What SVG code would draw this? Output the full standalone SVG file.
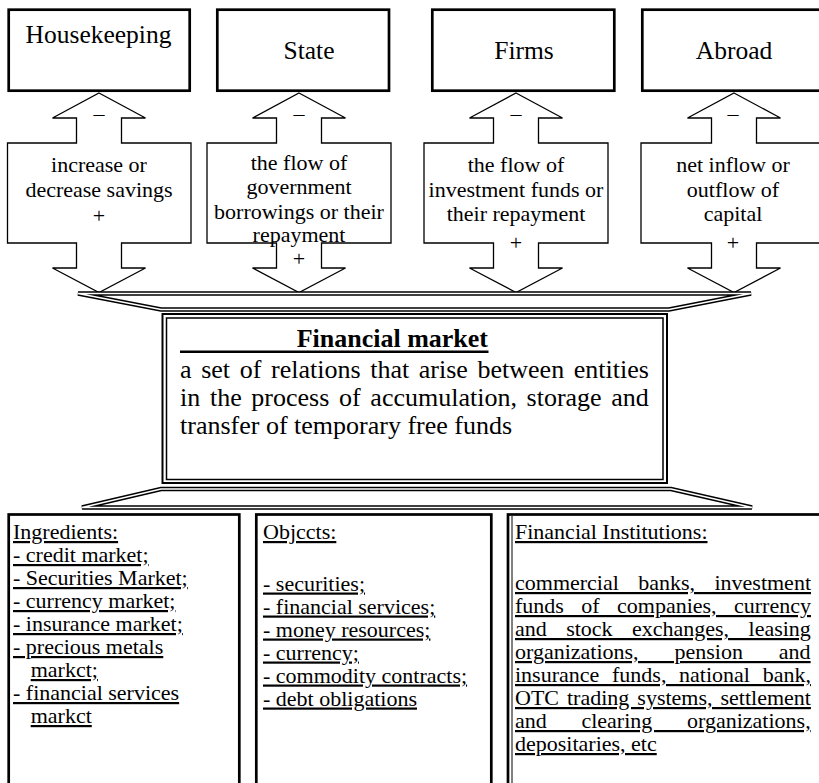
<svg xmlns="http://www.w3.org/2000/svg" width="819" height="783" viewBox="0 0 819 783">
<style>
.box{fill:#fff;stroke:#000;stroke-width:2.7}
.arr{fill:#fff;stroke:#000;stroke-width:1.3;stroke-linejoin:miter}
.dblk{fill:none;stroke:#000;stroke-width:4.5}
.dwht{fill:none;stroke:#fff;stroke-width:1.5}
text{font-family:"Liberation Serif","Times New Roman",serif;fill:#000}
.h{font-size:25.5px;text-anchor:middle}
.f{font-size:22px;text-anchor:middle}
.c{font-size:26px}
.l{font-size:22px;text-decoration:underline}
.u2{text-decoration-thickness:1.8px}
</style>
<rect width="819" height="783" fill="#fff"/>

<g id="housekeeping">
<rect class="box" x="8.7" y="9.7" width="181" height="81"/>
<text class="h" x="98.5" y="43">Housekeeping</text>
</g>
<g id="state">
<rect class="box" x="217.3" y="9.7" width="171.7" height="81"/>
<text class="h" x="309" y="59">State</text>
</g>
<g id="firms">
<rect class="box" x="432.3" y="9.7" width="182" height="81"/>
<text class="h" x="524" y="59">Firms</text>
</g>
<g id="abroad">
<rect class="box" x="642.3" y="9.7" width="200" height="81"/>
<text class="h" x="734" y="59">Abroad</text>
</g>

<g id="flow-housekeeping">
<path class="arr" d="M99,93 L145.5,118 L121.5,118 L121.5,143 L191,143 L191,243 L121.5,243 L121.5,268 L145.5,268 L99,292.5 L52.5,268 L76.5,268 L76.5,243 L7.5,243 L7.5,143 L76.5,143 L76.5,118 L52.5,118 Z"/>
<text class="f" x="99" y="121">–</text>
<text class="f" x="99" y="172">increase or</text>
<text class="f" x="99" y="196.7">decrease savings</text>
<text class="f" x="99" y="223">+</text>
</g>
<g id="flow-state">
<path class="arr" d="M299,93 L345.5,118 L321.5,118 L321.5,143 L391,143 L391,243 L321.5,243 L321.5,268 L345.5,268 L299,292.5 L252.5,268 L276.5,268 L276.5,243 L207,243 L207,143 L276.5,143 L276.5,118 L252.5,118 Z"/>
<text class="f" x="299" y="121">–</text>
<text class="f" x="299" y="169.5">the flow of</text>
<text class="f" x="299" y="194">government</text>
<text class="f" x="299" y="218.5">borrowings or their</text>
<text class="f" x="299" y="242">repayment</text>
<text class="f" x="299" y="266">+</text>
</g>
<g id="flow-firms">
<path class="arr" d="M516,93 L562.5,118 L538.5,118 L538.5,143 L608,143 L608,243 L538.5,243 L538.5,268 L562.5,268 L516,292.5 L469.5,268 L493.5,268 L493.5,243 L424,243 L424,143 L493.5,143 L493.5,118 L469.5,118 Z"/>
<text class="f" x="516" y="121">–</text>
<text class="f" x="516" y="172">the flow of</text>
<text class="f" x="516" y="196.7">investment funds or</text>
<text class="f" x="516" y="221.4">their repayment</text>
<text class="f" x="516" y="249.5">+</text>
</g>
<g id="flow-abroad">
<path class="arr" d="M734,93 L780.5,118 L756.5,118 L756.5,143 L830,143 L830,243 L756.5,243 L756.5,268 L780.5,268 L734,292.5 L687.5,268 L711.5,268 L711.5,243 L641,243 L641,143 L711.5,143 L711.5,118 L687.5,118 Z"/>
<text class="f" x="733" y="121">–</text>
<text class="f" x="733" y="172">net inflow or</text>
<text class="f" x="733" y="196.7">outflow of</text>
<text class="f" x="733" y="221.4">capital</text>
<text class="f" x="733" y="249.5">+</text>
</g>

<g id="connectors">
<path class="dblk" d="M78,293.5 L751,293.5 L669,309.5 L161,309.5 Z"/>
<path class="dwht" d="M78,293.5 L751,293.5 L669,309.5 L161,309.5 Z"/>
<path class="dblk" d="M161,489 L671,489 L752,507.5 L82,507.5 Z"/>
<path class="dwht" d="M161,489 L671,489 L752,507.5 L82,507.5 Z"/>
</g>

<g id="financial-market">
<rect x="162.5" y="314" width="504.5" height="169" fill="#fff" stroke="#000" stroke-width="2"/>
<rect x="166.5" y="318" width="496.5" height="161.5" fill="none" stroke="#000" stroke-width="1.5"/>
<text class="c" x="488" y="346.7" text-anchor="end" font-weight="bold">Financial market</text>
<line x1="180" y1="351.7" x2="488.5" y2="351.7" stroke="#000" stroke-width="2.6"/>
<text class="c" x="180" y="377.5" word-spacing="3.14">a set of relations that arise between entities</text>
<text class="c" x="180" y="405.5" word-spacing="3.18">in the process of accumulation, storage and</text>
<text class="c" x="180" y="433.5">transfer of temporary free funds</text>
</g>

<g id="ingredients">
<rect class="box" x="8.7" y="514.5" width="230.6" height="300"/>
<text class="l" x="13" y="539">Ingredients:</text>
<text class="l u2" x="13" y="562">- credit market;</text>
<text class="l u2" x="13" y="585">- Securities Market;</text>
<text class="l u2" x="13" y="608">- currency market;</text>
<text class="l u2" x="13" y="631">- insurance market;</text>
<text class="l u2" x="13" y="654">- precious metals</text>
<text class="l" x="30.7" y="677">markct;</text>
<text class="l u2" x="13" y="700">- financial services</text>
<text class="l" x="30.7" y="723">markct</text>
</g>
<g id="objects">
<rect class="box" x="256.3" y="514.5" width="235" height="300"/>
<text class="l" x="263" y="539">Objccts:</text>
<text class="l u2" x="263" y="590.5">- securities;</text>
<text class="l u2" x="263" y="613.5">- financial services;</text>
<text class="l u2" x="263" y="636.5">- money resources;</text>
<text class="l u2" x="263" y="659.5">- currency;</text>
<text class="l u2" x="263" y="682.5">- commodity contracts;</text>
<text class="l u2" x="263" y="705.5">- debt obligations</text>
</g>
<g id="financial-institutions">
<rect class="box" x="508" y="514.5" width="330" height="300"/>
<line x1="512" y1="516" x2="512" y2="783" stroke="#000" stroke-width="1"/>
<text class="l" x="515" y="539">Financial Institutions:</text>
<text class="l u2" x="515" y="590" word-spacing="13.9">commercial banks, investment</text>
<text class="l u2" x="515" y="613" word-spacing="11.9">funds of companies, currency</text>
<text class="l u2" x="515" y="636" word-spacing="13.9">and stock exchanges, leasing</text>
<text class="l u2" x="515" y="659" word-spacing="30.4">organizations, pension and</text>
<text class="l u2" x="515" y="682" word-spacing="7.2">insurance funds, national bank,</text>
<text class="l u2" x="515" y="705" word-spacing="2.5">OTC trading systems, settlement</text>
<text class="l u2" x="515" y="728" word-spacing="29.2">and clearing organizations,</text>
<text class="l u2" x="515" y="751">depositaries, etc</text>
</g>
</svg>
